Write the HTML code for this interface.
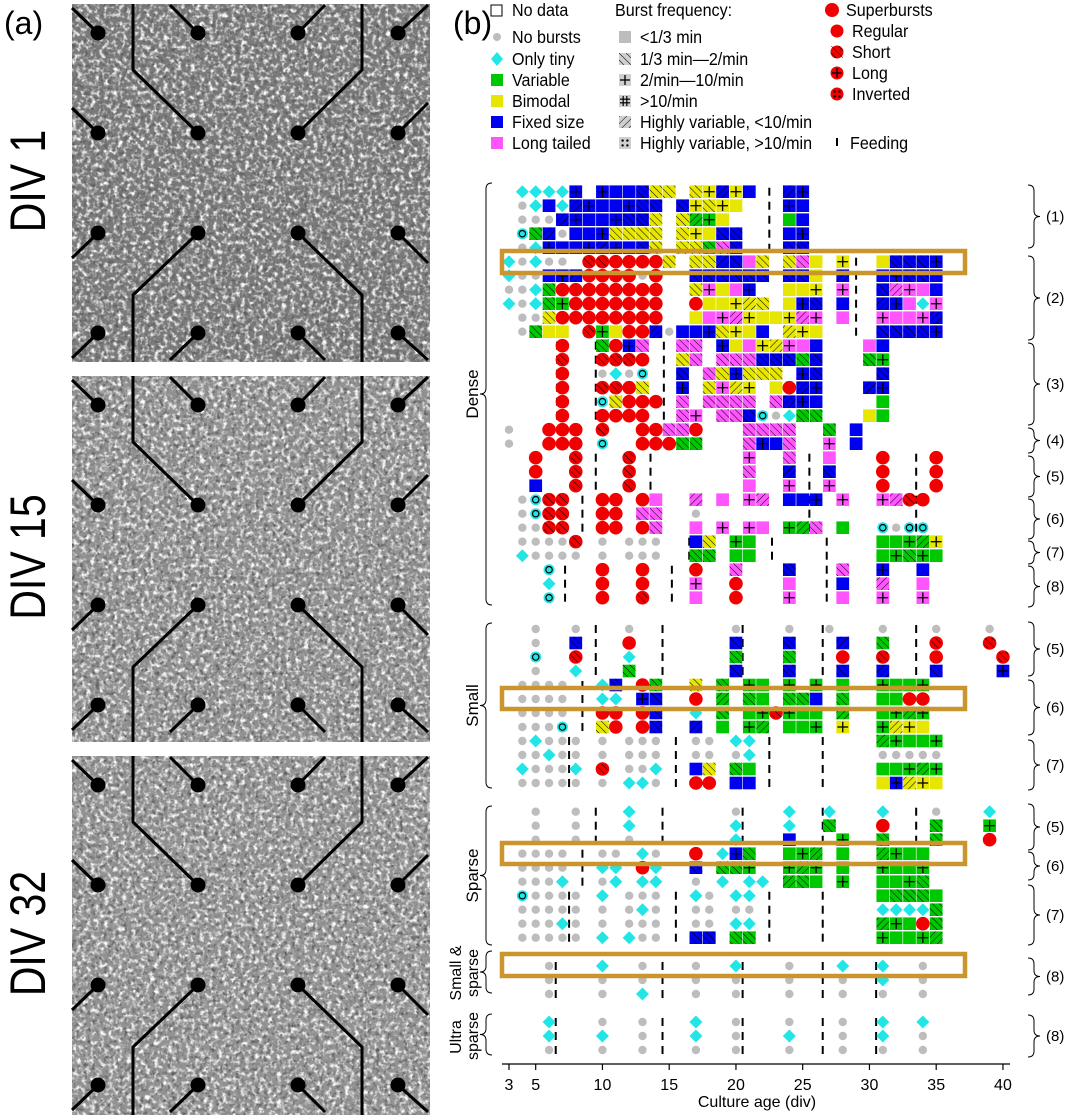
<!DOCTYPE html>
<html><head><meta charset="utf-8">
<style>
html,body{margin:0;padding:0;background:#fff;}
body{width:1075px;height:1115px;overflow:hidden;position:relative;font-family:"Liberation Sans",sans-serif;}
svg{position:absolute;left:0;top:0;}
</style></head>
<body>
<svg id="fig" width="1075" height="1115" viewBox="0 0 1075 1115" xmlns="http://www.w3.org/2000/svg">
<defs>
<filter id="speck" x="0" y="0" width="100%" height="100%">
<feTurbulence type="fractalNoise" baseFrequency="0.22" numOctaves="2" seed="3" result="n"/>
<feColorMatrix in="n" type="matrix" values="0 0 0 0 1  0 0 0 0 1  0 0 0 0 1  3 0 0 0 -1.35" result="m"/>
<feComposite in="m" in2="SourceGraphic" operator="in"/>
</filter>
<filter id="speckD" x="0" y="0" width="100%" height="100%">
<feTurbulence type="fractalNoise" baseFrequency="0.25" numOctaves="2" seed="9" result="n"/>
<feColorMatrix in="n" type="matrix" values="0 0 0 0 0.1  0 0 0 0 0.1  0 0 0 0 0.1  -3 0 0 0 1.45" result="m"/>
<feComposite in="m" in2="SourceGraphic" operator="in"/>
</filter>
<pattern id="hatchA" width="5" height="5" patternUnits="userSpaceOnUse" patternTransform="rotate(45)"><line x1="0" y1="0" x2="0" y2="5" stroke="#000" stroke-width="1"/></pattern>
<pattern id="hatchB" width="5" height="5" patternUnits="userSpaceOnUse" patternTransform="rotate(-45)"><line x1="0" y1="0" x2="0" y2="5" stroke="#000" stroke-width="1"/></pattern>
</defs>
<g id="panelA"></g>
<g id="panelB"></g>
</svg>
<script>
// ---- data ----
const dayTicks = [3,5,10,15,20,25,30,35,40];
const denseRows = [
"4-7c 8B 10-12B 13b 14-15y 17y 18Y 19B 20Y 21B 24-25B",
"4o 5c 6B 7c 8-12B 13-14b 16b 17Y 18y 19-20Y 24-25B",
"4-6o 7B 8-11B 12-13b 14y 16y 17-18G 19Y 24G 25B",
"4q 5g 6B 7o 8-10B 11-14y 16y 17-18Y 19-20b 24-25B",
"4o 5c 6-12B 13b 14y 16-17y 18g 19m 20b 24-25b",
"3c 4o 5c 6-7o 9-10r 11-14R 15y 17-18y 19B 20b 21M 22y 24y 25m 26Y 28Y 31Y 32-34b 35B",
"3c 4-5o 6-8B 9-12R 13o 14R 17-21b 22b 24-25b 26Y 28B 31-32B 33-34b 35B",
"3-4o 5c 6g 7-14R 17y 18M 19Y 20M 21B 24-26Y 28M 31b 32-34M 35B",
"3c 4o 5c 6g 7G 8-14R 17R 18-21Y 22y 24Y 25B 26b 28B 31-32B 33M 34c 35M",
"4-5o 6y 7-14R 17Y 18-20M 21-24Y 25-26M 28M 31-34M 35B",
"4o 5g 6-7Y 9r 10G 11Y 12-13R 14B 15o 16-18B 19y 20-21Y 22B 24-26Y 31-34b 35B",
"7R 10g 11R 12B 13m 16-17m 19B 20Y 21M 22-23Y 24-25M 26B 30M 31B",
"7r 10-12r 13R 16y 17m 19-21m 22-24b 25g 26b 30g 31G",
"7R 10o 11c 12o 13q 16b 18m 19y 20B 21-23y 25B 26b 31b",
"7R 10-11r 12R 13y 16B 18y 19M 20-21Y 23Y 24R 25-26B 30B 31B",
"7R 10q 11y 12-14R 16m 18-21m 23m 24-26B 31G",
"7R 10-13R 16m 17M 19-20m 21b 22q 23o 24c 25-26g 30Y 31G",
"3o 6-8R 10r 13-14R 15-16m 17R 21m 22-24m 27g 29B",
"3o 6-8R 10q 13-15R 16-17g 21m 22-23B 24m 27M 29B",
"5R 8r 12r 21M 24m 27M 31R 35R",
"5R 8r 12r 21m 24B 27b 31R 35R",
"5B 8r 12r 21M 24M 27M 31R 35R",
"4o 5q 6-7r 10-11R 13R 14M 17M 19M 21-22M 24-26B 28M 31-32M 33r 34R",
"4o 5q 6-7r 10-11R 13-14m 17o",
"4-5o 6-7r 10-11R 13R 14m 17M 19M 21-22M 24-25G 26m 28G 31q 32o 33-34q",
"4-7o 8r 10o 12-14o 17B 18y 20-21G 31-34G 35Y",
"4c 5-8o 10o 12-14o 17-18g 20-21G 31-32G 33g 34-35G",
"6q 10R 13R 17R 20m 24b 28m 31B 34B",
"6c 10R 13R 17M 20R 24M 28B 31M 34M",
"6q 10R 13r 17M 20R 24M 28M 31M 34M"
];
const smallRows = [
"5o 8o 12o 20o 24o 27o 31o 35o 39o",
"5o 8b 12R 20b 24b 28B 31g 35r 39r",
"5q 8r 12c 20g 24g 28R 31r 35R 40r",
"5o 8c 12g 20b 24b 28b 31B 35b 40B",
"4-7o 10c 11b 13R 14g 17y 19g 21-22G 24G 26G 28G 31-34G",
"4-7o 10-11c 13B 14b 17R 19G 21g 22G 24-25g 26B 28g 31-32G 33-34R",
"4-7o 10-11R 13R 14b 17c 19g 21-22G 23r 24-26G 28G 31-34G",
"4-6o 7q 10y 11R 13R 14b 17B 19G 21-22G 24-26G 28Y 31G 32-34Y",
"4o 5c 6-8o 10o 12-14o 17-18o 20-21c 31-35G",
"4-5o 6c 7-8o 10o 12-14o 17-18o 20o 21c 31-35o",
"4c 5-7o 8c 10r 12-13o 14c 17B 18y 20g 21G 31-35G",
"4-8o 10o 12-13c 14o 17-18R 20-21B 31Y 32B 33-35Y"
];
const sparseRows = [
"5o 8o 12c 20o 24c 27c 31c 35o 39c",
"5o 8o 12c 20c 24c 27g 31R 35g 39G",
"5o 8o 12o 20c 24B 28G 31g 35g 39R",
"4-7o 10-11o 13c 14o 17R 19c 20B 21g 24-26G 28G 31-34G",
"4-7o 10-11c 13R 14c 17b 19-20g 21G 24-26G 28G 31-34G",
"4-6o 7c 10o 11c 13-14c 17o 19c 21-22c 24G 25g 26G 28G 31-33G 34g",
"4q 5-8o 10c 12-14o 17c 18o 20-21c 31G 32-34g 35G",
"4-8o 10o 12o 13c 14o 17-18o 20-21o 31-34c 35g",
"4-6o 7c 8o 10o 12-14o 17-18o 20-21c 31-33G 34R 35g",
"4-8o 10c 12c 13-14o 17-18b 20-21g 31-35G"
];
const smallSparseRows = [
"6o 10c 13o 17o 20c 24o 28c 31c 34o",
"6o 10o 13o 17o 20o 24o 28o 31c 34o",
"6o 10o 13c 17o 20o 24o 28o 31o 34o"
];
const ultraRows = [
"6c 10o 13o 17c 20o 24o 28o 31c 34c",
"6c 10c 13o 17c 20o 24c 28o 31c 34o",
"6o 10o 13o 17o 20o 24o 28o 31o 34o"
];
const feedDense = [[0,4,[22.5]],[5,10,[29]],[11,16,[6.6,9.5,14.6]],[19,21,[9.5,13.6,25.5,33.5]],[22,24,[8.5,25.5,33.5]],[25,26,[16.5,22.7,26.8]],[27,29,[7.2,15.2,26.8]]];
const feedSmall = [[0,3,[9.5,14.5,20.5,26.5,33.5]],[4,7,[8.5]],[8,11,[7.5,15.5,22.5,26.5]]];
const feedSparse = [[0,2,[9.5,14.5,20.5,26.5,33.5]],[3,5,[8.5]],[6,9,[7.5,15.5,22.5,26.5]]];
const feedSS = [[0,2,[6.5,14.5,20.5,26.5,30.5]]];
const feedUltra = [[0,2,[6.5,14.5,20.5,26.5,30.5]]];

// ---- helpers ----
const NS="http://www.w3.org/2000/svg";
function mk(tag, attrs, parent){const e=document.createElementNS(NS,tag);for(const k in attrs)e.setAttribute(k,attrs[k]);if(parent)parent.appendChild(e);return e;}
const A=document.getElementById('panelA'), B=document.getElementById('panelB');
const x0=509, dx=13.35;
function xs(d){return x0+(d-3)*dx;}

// ---- panel a ----
const imgs=[[0,362,'DIV 1','#7a7a7a'],[372,742,'DIV 15','#909090'],[752,1115,'DIV 32','#929292']];
imgs.forEach((im,i)=>{
 const g=mk('g',{},A);
 
 
 const y0=im[0]+4,h=im[1]-im[0]-4;
 mk('rect',{x:72,y:y0,width:358,height:h,fill:im[3]},g);
 mk('rect',{x:72,y:y0,width:358,height:h,fill:'#fff',filter:'url(#speck)'},g);
 mk('rect',{x:72,y:y0,width:358,height:h,fill:'#000',filter:'url(#speckD)'},g);
 const oy=im[0];
 const ln={stroke:'#000','stroke-width':3,fill:'none'};
 mk('polyline',Object.assign({points:`133,${oy+4} 133,${oy+70} 198,${oy+133}`},ln),g);
 mk('polyline',Object.assign({points:`362,${oy+4} 362,${oy+70} 298,${oy+133}`},ln),g);
 mk('polyline',Object.assign({points:`198,${oy+233} 133,${oy+295} 133,${im[1]}`},ln),g);
 mk('polyline',Object.assign({points:`298,${oy+233} 362,${oy+295} 362,${im[1]}`},ln),g);
 mk('line',Object.assign({x1:198,y1:oy+33,x2:170,y2:oy+5},ln),g);
 mk('line',Object.assign({x1:298,y1:oy+33,x2:325,y2:oy+5},ln),g);
 mk('line',Object.assign({x1:98,y1:oy+33,x2:72,y2:oy+8},ln),g);
 mk('line',Object.assign({x1:398,y1:oy+33,x2:428,y2:oy+5},ln),g);
 mk('line',Object.assign({x1:98,y1:oy+133,x2:72,y2:oy+108},ln),g);
 mk('line',Object.assign({x1:398,y1:oy+133,x2:428,y2:oy+103},ln),g);
 mk('line',Object.assign({x1:98,y1:oy+233,x2:72,y2:oy+258},ln),g);
 mk('line',Object.assign({x1:398,y1:oy+233,x2:428,y2:oy+263},ln),g);
 mk('line',Object.assign({x1:98,y1:oy+333,x2:72,y2:oy+358},ln),g);
 mk('line',Object.assign({x1:198,y1:oy+333,x2:170,y2:oy+360},ln),g);
 mk('line',Object.assign({x1:298,y1:oy+333,x2:325,y2:oy+360},ln),g);
 mk('line',Object.assign({x1:398,y1:oy+333,x2:428,y2:oy+360},ln),g);
 [98,198,298,398].forEach(cx=>[33,133,233,333].forEach(cy=>{
  const c=mk('circle',{cx:cx,cy:oy+cy,r:7.5,fill:'#000'},g);
  
  
 }));
 const cy=(im[0]+im[1])/2;
 const t=mk('text',{x:0,y:0,'font-size':50,'text-anchor':'middle',fill:'#000',transform:`translate(45,${cy}) rotate(-90) scale(0.82,1)`},A);
 t.textContent=im[2];
 
 
});
const la=mk('text',{x:4,y:34,'font-size':32,fill:'#000'},A);la.textContent='(a)';



// ---- panel b legend ----
const lb=mk('text',{x:453,y:34,'font-size':32,fill:'#000'},B);lb.textContent='(b)';


const COL={G:'#00c800',Y:'#e6e600',B:'#0000f0',M:'#ff55ff',R:'#f00000',C:'#22e6e6',O:'#bdbdbd'};
const leg=mk('g',{},B);


function legText(x,y,s){const t=mk('text',{x:x,y:y+6,'font-size':17.5,fill:'#000',transform:`translate(${x},0) scale(0.92,1) translate(${-x},0)`},leg);t.textContent=s;}
mk('rect',{x:491,y:5,width:11,height:11,fill:'#fff',stroke:'#000','stroke-width':1},leg);legText(512,10,'No data');
mk('circle',{cx:497,cy:37,r:4,fill:COL.O},leg);legText(512,37,'No bursts');
mk('path',{d:'M497,52 L503,59 L497,66 L491,59Z',fill:COL.C},leg);legText(512,59,'Only tiny');
[['G','Variable',80],['Y','Bimodal',101],['B','Fixed size',122],['M','Long tailed',143]].forEach(a=>{mk('rect',{x:491,y:a[2]-6,width:12,height:12,fill:COL[a[0]]},leg);legText(512,a[2],a[1]);});
legText(615,10,'Burst frequency:');
const fr=[['<1/3 min',37,''],['1/3 min\u20142/min',59,'hb'],['2/min\u201410/min',80,'plus'],['>10/min',101,'hash'],['Highly variable, <10/min',122,'ha'],['Highly variable, >10/min',143,'dots']];
fr.forEach(f=>{const y=f[1];
 mk('rect',{x:619,y:y-6,width:12,height:12,fill:f[2]===''?'#bdbdbd':'#cfcfcf'},leg);
 drawPat(leg,f[2],619,y-6,12,12);
 legText(640,y,f[0]);});
mk('circle',{cx:832,cy:10,r:7,fill:COL.R},leg);legText(846,10,'Superbursts');
[['Regular',31,''],['Short',52,'hb'],['Long',73,'plus'],['Inverted',94,'dots']].forEach(a=>{mk('circle',{cx:837,cy:a[1],r:6.5,fill:COL.R},leg);drawPat(leg,a[2],831,a[1]-6,12,12);legText(852,a[1],a[0]);});
mk('line',{x1:837,y1:138,x2:837,y2:146,stroke:'#000','stroke-width':2},leg);legText(850,143,'Feeding');

function drawPat(g,p,x,y,w,h){
 if(p==='hb'||p==='ha'){mk('rect',{x:x,y:y,width:w,height:h,fill:p==='hb'?'url(#hatchB)':'url(#hatchA)'},g);}
 else if(p==='plus'){mk('line',{x1:x+w/2,y1:y+1,x2:x+w/2,y2:y+h-1,stroke:'#000','stroke-width':1.3},g);mk('line',{x1:x+1,y1:y+h/2,x2:x+w-1,y2:y+h/2,stroke:'#000','stroke-width':1.3},g);}
 else if(p==='hash'){[0.35,0.65].forEach(f=>{mk('line',{x1:x+w*f,y1:y+1,x2:x+w*f,y2:y+h-1,stroke:'#000','stroke-width':1.2},g);mk('line',{x1:x+1,y1:y+h*f,x2:x+w-1,y2:y+h*f,stroke:'#000','stroke-width':1.2},g);});}
 else if(p==='dots'){[[0.3,0.3],[0.7,0.3],[0.3,0.7],[0.7,0.7]].forEach(q=>mk('circle',{cx:x+w*q[0],cy:y+h*q[1],r:1.2,fill:'#000'},g));}
}

// ---- chart rows ----
function parseRow(s){const out=[];s.split(' ').forEach(tok=>{const m=tok.match(/^(\d+)(?:-(\d+))?([a-zA-Z])$/);if(!m)return;const a=+m[1],b=m[2]?+m[2]:a;for(let d=a;d<=b;d++)out.push([d,m[3]]);});return out;}
const patCycle=['plus','hb','','plus','ha'];
function drawGroup(rows,feeds,yStart,name){
 const g=mk('g',{},B);
 
 
 const step=14;
 feeds.forEach(f=>{f[2].forEach(d=>{for(let r=f[0];r<=f[1];r++){const y=yStart+r*step;const l=mk('line',{x1:xs(d),y1:y-4,x2:xs(d),y2:y+4,stroke:'#000','stroke-width':2},g);}});});
 rows.forEach((s,ri)=>{const y=yStart+ri*step;
  parseRow(s).forEach(([d,t],k)=>{const cx=xs(d);let e;
   const low=t===t.toLowerCase();const T=t.toUpperCase();
   if(T==='O'){e=mk('circle',{cx:cx,cy:y,r:4.2,fill:COL.O},g);}
   else if(t==='c'){e=mk('path',{d:`M${cx},${y-6.5} L${cx+6.5},${y} L${cx},${y+6.5} L${cx-6.5},${y}Z`,fill:COL.C},g);}
   else if(t==='q'){e=mk('circle',{cx:cx,cy:y,r:5.5,fill:COL.C},g);mk('circle',{cx:cx,cy:y,r:3.2,fill:'none',stroke:'#000','stroke-width':1.2},g);}
   else if(T==='R'){e=mk('circle',{cx:cx,cy:y,r:6.8,fill:COL.R},g);if(low)drawPat(g,'hb',cx-5,y-5,10,10);}
   else {e=mk('rect',{x:cx-dx/2+0.3,y:y-6.3,width:dx-0.6,height:12.6,fill:COL[T]},g);
     drawPat(g,low?'hb':patCycle[(d+ri)%5]==='hb'?'':patCycle[(d+ri)%5],cx-dx/2+0.3,y-6.3,dx-0.6,12.6);}
   
   
  });});
}
drawGroup(denseRows,feedDense,191.7,'dense-rows');
drawGroup(smallRows,feedSmall,629,'small-rows');
drawGroup(sparseRows,feedSparse,811.7,'sparse-rows');
drawGroup(smallSparseRows,feedSS,966,'small-sparse-rows');
drawGroup(ultraRows,feedUltra,1022,'ultra-sparse-rows');

// highlight boxes
[[251,273],[688,709],[843,864],[954,976]].forEach(b=>{const r=mk('rect',{x:502,y:b[0],width:463,height:b[1]-b[0],fill:'none',stroke:'#c9952c','stroke-width':4.5},B);});

// axis
const ax=mk('g',{},B);


mk('line',{x1:502,y1:1064,x2:1010,y2:1064,stroke:'#000','stroke-width':1.2},ax);
dayTicks.forEach(d=>{mk('line',{x1:xs(d),y1:1064,x2:xs(d),y2:1070,stroke:'#000','stroke-width':1.2},ax);const t=mk('text',{x:xs(d),y:1090,'font-size':16,'text-anchor':'middle',fill:'#000'},ax);t.textContent=d;});
const xt=mk('text',{x:757,y:1107,'font-size':16,'text-anchor':'middle',fill:'#000'},ax);xt.textContent='Culture age (div)';



// braces
function brace(x,y1,y2,dir,g){const ym=(y1+y2)/2,w=6*dir;
 mk('path',{d:`M${x},${y1} Q${x+w},${y1} ${x+w},${y1+6} L${x+w},${ym-6} Q${x+w},${ym} ${x+2*w},${ym} Q${x+w},${ym} ${x+w},${ym+6} L${x+w},${y2-6} Q${x+w},${y2} ${x},${y2}`,fill:'none',stroke:'#000','stroke-width':1},g);}
const rb=[['(1)',185,248],['(2)',256,340],['(3)',343,425],['(4)',428,453],['(5)',456,497],['(6)',499,539],['(7)',541,564],['(8)',566,607],['(5)',622,676],['(6)',680,735],['(7)',740,790],['(5)',804,850],['(6)',852,880],['(7)',885,945],['(8)',958,995],['(8)',1015,1057]];
rb.forEach(r=>{const g=mk('g',{},B);brace(1028,r[1],r[2],1,g);const t=mk('text',{x:1046,y:(r[1]+r[2])/2+5,'font-size':15,fill:'#000'},g);t.textContent=r[0];});
const lbr=[['Dense',183,605],['Small',623,788],['Sparse',806,945],['',951,993],['',1014,1055]];
lbr.forEach(r=>{const g=mk('g',{},B);brace(492,r[1],r[2],-1,g);
 if(r[0]){const t=mk('text',{x:0,y:0,'font-size':17,'text-anchor':'middle',fill:'#000',transform:`translate(478,${(r[1]+r[2])/2}) rotate(-90)`},g);t.textContent=r[0];}});
[['Small &',461,973],['sparse',478,973],['Ultra',461,1037],['sparse',478,1036]].forEach(a=>{const t=mk('text',{x:0,y:0,'font-size':16,'text-anchor':'middle',fill:'#000',transform:`translate(${a[1]},${a[2]}) rotate(-90)`},B);t.textContent=a[0];});
</script>
</body></html>
